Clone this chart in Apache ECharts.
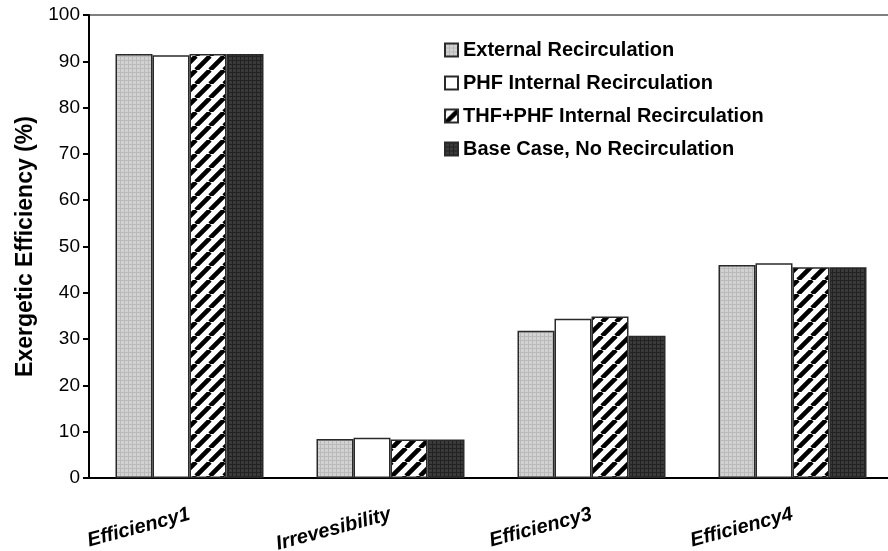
<!DOCTYPE html>
<html>
<head>
<meta charset="UTF-8">
<title>Exergetic Efficiency</title>
<script src="https://cdn.jsdelivr.net/npm/echarts@6/dist/echarts.min.js"></script>
<style>
  html, body { margin: 0; padding: 0; background: #fff; }
  #chart { width: 888px; height: 551px; }
</style>
</head>
<body>
<div id="chart"></div>
<script>
var categories = ['Efficiency1', 'Irrevesibility', 'Efficiency3', 'Efficiency4'];
var seriesNames = ['External Recirculation', 'PHF Internal Recirculation', 'THF+PHF Internal Recirculation', 'Base Case, No Recirculation'];
var externalRecirc = [91.6, 8.4, 31.8, 46.0];
var phfInternal = [91.3, 8.7, 34.4, 46.4];
var thfPhfInternal = [91.6, 8.3, 34.9, 45.5];
var baseCase = [91.6, 8.3, 30.7, 45.5];
var yTicks = [0, 100, 10]; // min, max, step

// fill patterns, drawn once on small canvases
function dotPattern(bg, fg) {
    var c = document.createElement('canvas');
    c.width = 4; c.height = 4;
    var ctx = c.getContext('2d');
    ctx.fillStyle = bg; ctx.fillRect(0, 0, 4, 4);
    ctx.fillStyle = fg;
    ctx.fillRect(0, 0, 1, 4);
    ctx.fillRect(0, 0, 4, 1);
    return c;
}
function hatchPattern() {
    var s = 14;
    var c = document.createElement('canvas');
    c.width = s; c.height = s;
    var ctx = c.getContext('2d');
    ctx.fillStyle = '#fff'; ctx.fillRect(0, 0, s, s);
    ctx.strokeStyle = '#000'; ctx.lineWidth = 4.6;
    ctx.beginPath();
    [-s, 0, s].forEach(function (k) {
        ctx.moveTo(k, s); ctx.lineTo(k + s, 0);
    });
    ctx.stroke();
    return c;
}
var fills = [
    { image: dotPattern('#d2d2d2', '#bababa'), repeat: 'repeat' },
    '#ffffff',
    { image: hatchPattern(), repeat: 'repeat' },
    { image: dotPattern('#3a3a3a', '#222222'), repeat: 'repeat' }
];
var datas = [externalRecirc, phfInternal, thfPhfInternal, baseCase];

var series = seriesNames.map(function (n, i) {
    return {
        name: n,
        type: 'bar',
        data: datas[i],
        barWidth: 37,
        barGap: '0%',
        itemStyle: { color: fills[i], borderColor: '#2a2a2a', borderWidth: 1.5 }
    };
});

var myChart = echarts.init(document.getElementById('chart'));
var option = {
    animation: false,
    backgroundColor: '#fff',
    textStyle: { fontFamily: 'Liberation Sans, Arial, sans-serif', color: '#000' },
    grid: {
        left: 89, width: 804, top: 15, bottom: 73,
        outerBoundsMode: 'none',
        containLabel: false,
        show: true, borderColor: '#000', borderWidth: 1
    },
    legend: {
        orient: 'vertical',
        left: 444, top: 40,
        padding: 0,
        icon: 'rect',
        itemWidth: 13, itemHeight: 13,
        itemGap: 13,
        textStyle: { fontSize: 20, fontWeight: 'bold', color: '#000' },
        data: seriesNames
    },
    xAxis: {
        type: 'category',
        data: categories,
        axisLine: { lineStyle: { color: '#000', width: 2 } },
        axisTick: { length: 6, lineStyle: { color: '#000', width: 2 } },
        axisLabel: {
            rotate: 15, margin: 36,
            fontSize: 20, fontWeight: 'bold', fontStyle: 'italic', color: '#000'
        }
    },
    yAxis: {
        type: 'value',
        min: yTicks[0], max: yTicks[1], interval: yTicks[2],
        name: 'Exergetic Efficiency (%)',
        nameLocation: 'middle',
        nameGap: 47,
        nameTextStyle: { fontSize: 23, fontWeight: 'bold', color: '#000' },
        axisLine: { show: true, lineStyle: { color: '#000', width: 2 } },
        axisTick: { show: true, length: 6, lineStyle: { color: '#000', width: 2 } },
        axisLabel: { fontSize: 19, color: '#000', margin: 9 },
        splitLine: { show: false }
    },
    series: series
};
myChart.setOption(option);
</script>
</body>
</html>
